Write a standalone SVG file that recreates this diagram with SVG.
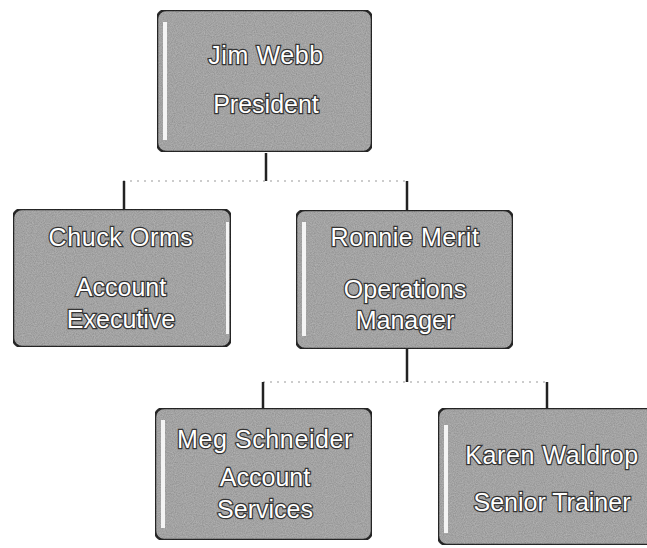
<svg xmlns="http://www.w3.org/2000/svg" width="647" height="548" viewBox="0 0 647 548">
<defs>
<filter id="noise" x="0" y="0" width="100%" height="100%">
<feTurbulence type="fractalNoise" baseFrequency="0.9" numOctaves="2" seed="3" result="t"/>
<feColorMatrix in="t" type="matrix" values="0 0 0 0 0.6  0 0 0 0 0.6  0 0 0 0 0.6  0 0 0 -1.2 1.1" result="n"/>
<feComposite in="n" in2="SourceGraphic" operator="in" result="nn"/>
<feBlend in="nn" in2="SourceGraphic" mode="multiply"/>
</filter>
<style>
.box{fill:#b4b4b4;stroke:#2a2a2a;stroke-width:2.5;filter:url(#noise)}
.hl{fill:#f4f4f4}
.t{font-family:"Liberation Sans",Arial,sans-serif;font-size:25px;fill:#ffffff;stroke:#333333;stroke-width:2.4;paint-order:stroke;text-anchor:middle}
.nm{letter-spacing:0.6px}
.v{stroke:#222222;stroke-width:2.5;fill:none}
.h{stroke:#9a9a9a;stroke-width:1.2;stroke-dasharray:2 5;fill:none}
</style>
</defs>
<rect width="647" height="548" fill="#ffffff"/>
<g id="connectors">
<path class="v" d="M266 153 V181"/>
<path class="h" d="M123 181 H410"/>
<path class="v" d="M124 181 V209"/>
<path class="v" d="M407 181 V210"/>
<path class="v" d="M407 349 V382"/>
<path class="h" d="M263 382 H547"/>
<path class="v" d="M263 382 V408"/>
<path class="v" d="M547 382 V408"/>
</g>
<g id="n-jim">
<rect class="box" x="157" y="10" width="215" height="142" rx="9"/>
<rect class="hl" x="163" y="22" width="4" height="118"/>
<text class="t nm" x="266" y="64">Jim Webb</text>
<text class="t" x="266" y="113">President</text>
</g>
<g id="n-chuck">
<rect class="box" x="13" y="209" width="218" height="138" rx="9"/>
<rect class="hl" x="226" y="222" width="3" height="112"/>
<text class="t nm" x="121" y="246">Chuck Orms</text>
<text class="t" x="121" y="296">Account</text>
<text class="t" x="121" y="328">Executive</text>
</g>
<g id="n-ronnie">
<rect class="box" x="296" y="210" width="217" height="139" rx="9"/>
<rect class="hl" x="302" y="222" width="4" height="114"/>
<text class="t nm" x="405" y="246">Ronnie Merit</text>
<text class="t" x="405" y="298">Operations</text>
<text class="t" x="405" y="329">Manager</text>
</g>
<g id="n-meg">
<rect class="box" x="155" y="408" width="217" height="132" rx="9"/>
<rect class="hl" x="161" y="420" width="4" height="108"/>
<text class="t nm" x="265" y="448">Meg Schneider</text>
<text class="t" x="265" y="486">Account</text>
<text class="t" x="265" y="518">Services</text>
</g>
<g id="n-karen">
<rect class="box" x="438" y="408" width="217" height="137" rx="9"/>
<rect class="hl" x="444" y="425" width="4" height="108"/>
<text class="t nm" x="552" y="464">Karen Waldrop</text>
<text class="t" x="552" y="511">Senior Trainer</text>
</g>
</svg>
